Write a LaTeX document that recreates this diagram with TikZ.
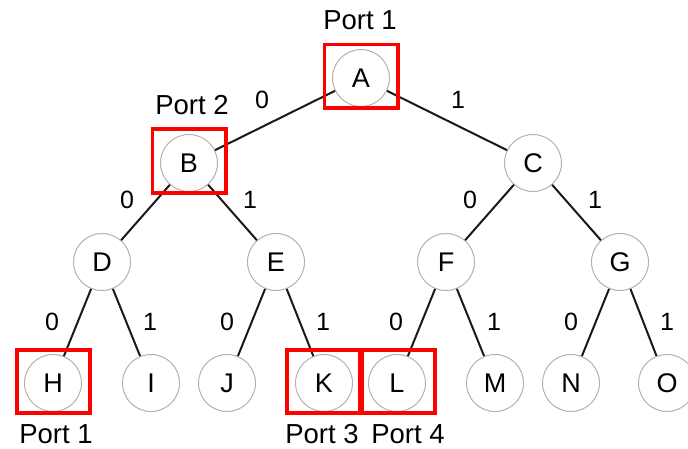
\documentclass[tikz,border=0pt]{standalone}
\usepackage{fontspec}
\setmainfont{Liberation Sans}
\begin{document}
\begin{tikzpicture}[x=1pt,y=-1pt,
  tn/.style={circle, draw=black!30, line width=1pt, fill=white, minimum size=57pt, inner sep=0pt, font=\fontsize{27}{27}\selectfont},
  edge/.style={draw=black!90, line width=2pt},
  elab/.style={font=\fontsize{25}{25}\selectfont, inner sep=0pt},
  plab/.style={font=\fontsize{27.5}{28}\selectfont, inner sep=0pt, anchor=base},
  redbox/.style={draw=red, line width=3.5pt}]
\useasboundingbox (0,0) rectangle (688,449);
% nodes
\node[tn] (A) at (361,78) {A};
\node[tn] (B) at (189,163) {B};
\node[tn] (C) at (533,163) {C};
\node[tn] (D) at (102,262) {D};
\node[tn] (E) at (276,262) {E};
\node[tn] (F) at (446,262) {F};
\node[tn] (G) at (620,262) {G};
\node[tn] (H) at (53,383) {H};
\node[tn] (I) at (151,383) {I};
\node[tn] (J) at (227,383) {J};
\node[tn] (K) at (324,383) {K};
\node[tn] (L) at (397,383) {L};
\node[tn] (M) at (495,383) {M};
\node[tn] (N) at (571,383) {N};
\node[tn] (O) at (667,383) {O};
% edges
\foreach \p/\c in {A/B,A/C,B/D,B/E,C/F,C/G,D/H,D/I,E/J,E/K,F/L,F/M,G/N,G/O}
  \path[edge] (\p) -- (\c);
% edge labels
\node[elab] (lAB) at (262,100) {0};
\node[elab] (lAC) at (458,100) {1};
\node[elab] (lBD) at (127,200) {0};
\node[elab] (lBE) at (250,200) {1};
\node[elab] (lCF) at (470,200) {0};
\node[elab] (lCG) at (595,200) {1};
\node[elab] (lDH) at (52,322) {0};
\node[elab] (lDI) at (150,322) {1};
\node[elab] (lEJ) at (227,322) {0};
\node[elab] (lEK) at (323,322) {1};
\node[elab] (lFL) at (396,322) {0};
\node[elab] (lFM) at (494,322) {1};
\node[elab] (lGN) at (571,322) {0};
\node[elab] (lGO) at (667,322) {1};
% red boxes
\draw[redbox] (324.5,44.5) rectangle (398,108);
\draw[redbox] (152.5,129) rectangle (226,193);
\draw[redbox] (17,350) rectangle (90,413);
\draw[redbox] (287,350) rectangle (360,413);
\draw[redbox] (362,350) rectangle (435,413);
% port labels
\node[plab] (p1) at (360,30) {Port 1};
\node[plab] (p2) at (192,115) {Port 2};
\node[plab] (p3) at (56,443) {Port 1};
\node[plab] (p4) at (322,443) {Port 3};
\node[plab] (p5) at (408,443) {Port 4};
\end{tikzpicture}
\end{document}
